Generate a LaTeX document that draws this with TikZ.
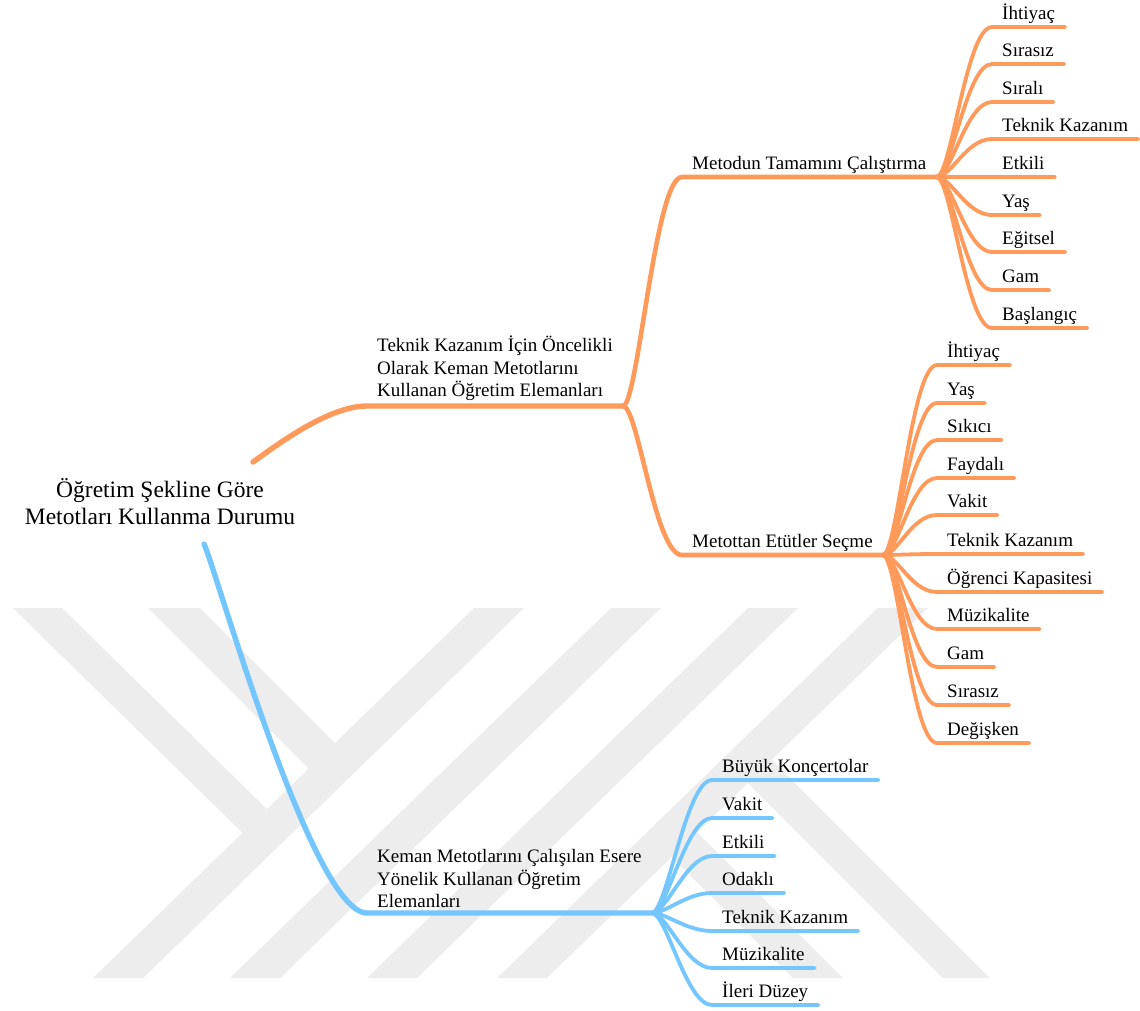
\documentclass[tikz,border=0pt]{standalone}
\usepackage{fontspec}
\setmainfont{Liberation Serif}
\usepackage{xcolor}
\usepackage{tikz}
\definecolor{branchorange}{HTML}{FF9A5B}
\definecolor{branchblue}{HTML}{74C6FF}
\definecolor{wmgray}{HTML}{EDEDED}

\begin{document}
\begin{tikzpicture}[
    x=1pt, y=-1pt,
    every node/.style={font=\fontsize{19}{22.5}\selectfont},
    item/.style={anchor=south west,inner xsep=10pt,inner ysep=7pt,text depth=0pt},
    group/.style={anchor=south west,align=left,inner xsep=10pt,inner ysep=5pt},
    obranch/.style={draw=branchorange,line width=3.8pt,line cap=round,line join=round},
    bbranch/.style={draw=branchblue,line width=3.8pt,line cap=round,line join=round},
    mainline/.style={line width=4.6pt},
    rootline/.style={line width=5.4pt},
    wm/.style={fill=wmgray}
  ]
    \fill[white] (0,0) rectangle (1140,1010);
    \useasboundingbox (0,0) rectangle (1140,1010);

    % watermark
    \fill[wm] (93,978) -- (143,978) -- (524,608) -- (474,608) -- cycle;
    \fill[wm] (230,978) -- (280,978) -- (661,608) -- (611,608) -- cycle;
    \fill[wm] (367,978) -- (417,978) -- (798,608) -- (748,608) -- cycle;
    \fill[wm] (497,978) -- (547,978) -- (928,608) -- (878,608) -- cycle;
    \fill[wm] (13,608) -- (62,608) -- (283,825) -- (260,850) -- cycle;
    \fill[wm] (148,608) -- (200,608) -- (352,760) -- (325,785) -- cycle;
    \fill[wm] (943,978) -- (990,978) -- (759,747) -- (736,771) -- cycle;
    \fill[wm] (793,978) -- (843,978) -- (685,820) -- (660,845) -- cycle;

    \node[font=\fontsize{23.5}{27}\selectfont,align=center] (root) at (160,502)
      {Öğretim Şekline Göre\\Metotları Kullanma Durumu};
    \coordinate (rootO) at (253,462);
    \coordinate (rootB) at (204,544);

    \node[group] (tk) at (367,406) {Teknik Kazanım İçin Öncelikli\\Olarak Keman Metotlarını\\Kullanan Öğretim Elemanları};
    \node[group] (km) at (367,913) {Keman Metotlarını Çalışılan Esere\\Yönelik Kullanan Öğretim\\Elemanları};
    \node[item] (mt) at (682,177) {Metodun Tamamını Çalıştırma};
    \node[item] (me) at (682,555) {Metottan Etütler Seçme};

    \draw[obranch,rootline] (rootO) .. controls +(20,-14) and +(-40,0) .. (tk.south west) -- (tk.south east);
    \draw[bbranch,rootline] (rootB) .. controls +(12,25) and +(-55,0) .. (km.south west) -- (km.south east);
    \draw[obranch,mainline] (tk.south east) .. controls +(15,0) and +(-27,0) .. (mt.south west) -- (mt.south east);
    \draw[obranch,mainline] (tk.south east) .. controls +(15,0) and +(-27,0) .. (me.south west) -- (me.south east);

    % leaves
    \foreach \txt/\yy [count=\i] in {İhtiyaç/27, Sırasız/64, Sıralı/102, Teknik Kazanım/139, Etkili/177,
        Yaş/215, Eğitsel/252, Gam/290, Başlangıç/328} {
      \node[item] (mt\i) at (992,\yy) {\txt};
      \draw[obranch] (mt.south east) .. controls +(15,0) and +(-26,0) .. (mt\i.south west) -- (mt\i.south east);
    }
    \foreach \txt/\yy [count=\i] in {İhtiyaç/365, Yaş/403, Sıkıcı/440, Faydalı/478, Vakit/515,
        Teknik Kazanım/554, Öğrenci Kapasitesi/592, Müzikalite/629, Gam/667, Sırasız/705, Değişken/743} {
      \node[item] (me\i) at (937,\yy) {\txt};
      \draw[obranch] (me.south east) .. controls +(15,0) and +(-26,0) .. (me\i.south west) -- (me\i.south east);
    }
    \foreach \txt/\yy [count=\i] in {Büyük Konçertolar/780, Vakit/818, Etkili/856, Odaklı/893,
        Teknik Kazanım/931, Müzikalite/968, İleri Düzey/1005} {
      \node[item] (km\i) at (712,\yy) {\txt};
      \draw[bbranch] (km.south east) .. controls +(15,0) and +(-26,0) .. (km\i.south west) -- (km\i.south east);
    }
\end{tikzpicture}
\end{document}
